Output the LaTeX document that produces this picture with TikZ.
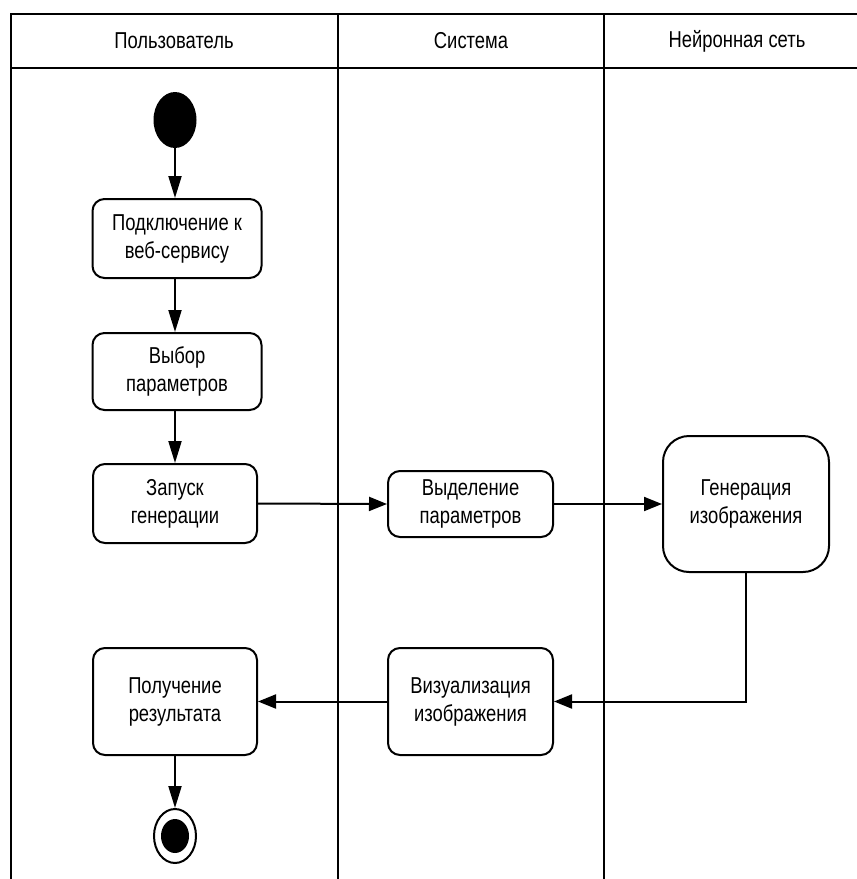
\documentclass[tikz,border=0pt]{standalone}
\usepackage{fontspec}
\setmainfont{Liberation Sans}[FakeStretch=0.8]
\usetikzlibrary{arrows.meta,shapes.geometric}
\begin{document}
\begin{tikzpicture}[x=1pt,y=-1pt,
  lane/.style={line width=2.8pt},
  act/.style={draw,line width=2pt,rounded corners=12pt,align=center,
    inner sep=0pt,font=\fontsize{23}{28}\selectfont},
  head/.style={font=\fontsize{23}{27}\selectfont},
  flow/.style={line width=2pt},
  vtip/.style={flow,-{Triangle[length=22pt,width=13pt]}},
  htip/.style={flow,-{Triangle[length=18pt,width=14pt]}}]
\useasboundingbox (0,0) rectangle (857,879);

% swimlane frame
\draw[lane] (857,14) -- (11,14) -- (11,879);
\draw[lane] (11,68) -- (857,68);
\draw[lane] (338,14) -- (338,879);
\draw[lane] (604,14) -- (604,879);

% lane titles
\node[head] (h1) at (174,41) {Пользователь};
\node[head] (h2) at (471,41) {Система};
\node[head] (h3) at (737,41) {Нейронная сеть};

% initial node
\node[ellipse,fill=black,minimum width=43pt,minimum height=56pt,inner sep=0pt] (start) at (175,120) {};

% activities
\node[act,minimum width=169pt,minimum height=79pt] (b1) at (177,238.5) {Подключение к\\веб-сервису};
\node[act,minimum width=169pt,minimum height=77pt] (b2) at (177,371.5) {Выбор\\параметров};
\node[act,minimum width=164pt,minimum height=79pt] (b3) at (175,503.5) {Запуск\\генерации};
\node[act,minimum width=165pt,minimum height=66pt] (b4) at (470.5,504) {Выделение\\параметров};
\node[act,rounded corners=26pt,minimum width=166pt,minimum height=136pt] (b5) at (746,504) {Генерация\\изображения};
\node[act,minimum width=165pt,minimum height=107pt] (b6) at (470.5,701.5) {Визуализация\\изображения};
\node[act,minimum width=164pt,minimum height=107pt] (b7) at (175,701.5) {Получение\\результата};

% final node
\node[ellipse,draw,line width=2pt,minimum width=42pt,minimum height=54pt,inner sep=0pt] (stop) at (175,836) {};
\node[ellipse,fill=black,minimum width=28pt,minimum height=34pt,inner sep=0pt] (stopdot) at (stop.center) {};

% control flow
\draw[vtip] (start.south) -- (start.south |- b1.north);
\draw[vtip] (b1.south -| start.south) -- (start.south |- b2.north);
\draw[vtip] (b2.south -| start.south) -- (start.south |- b3.north);
\draw[htip] (b3.east) -- (b4.west);
\draw[htip] (b4.east) -- (b5.west);
\draw[htip] (b5.south) |- (b6.east);
\draw[htip] (b6.west) -- (b7.east);
\draw[vtip] (b7.south) -- (stop.north);
\end{tikzpicture}
\end{document}
